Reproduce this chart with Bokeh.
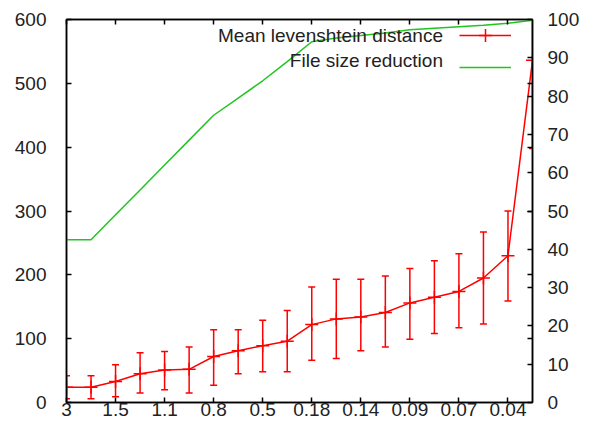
from bokeh.plotting import figure
from bokeh.models import (Range1d, LinearAxis, FixedTicker, ColumnDataSource,
                          Legend, LegendItem, Label)
from bokeh.embed import file_html
from bokeh.resources import INLINE

# ---------------- data ----------------
x_index = list(range(20))
tick_values = [0, 2, 4, 6, 8, 10, 12, 14, 16, 18]
tick_labels = ["3", "1.5", "1.1", "0.8", "0.5", "0.18", "0.14", "0.09", "0.07", "0.04"]

lev_mean = [24, 24, 33, 45, 51, 52, 72, 81, 89, 96,
            122, 131, 134, 141, 156, 165, 174, 195, 230, 536]
lev_lower = [6, 6, 9, 15, 20, 15, 27, 45, 48, 48,
             66, 69, 81, 87, 99, 108, 117, 123, 159, 398]
lev_upper = [42, 42, 59, 78, 80, 87, 114, 114, 129, 144,
             181, 193, 193, 198, 210, 222, 233, 267, 300, 674]

size_reduction = [42.5, 42.5, 49, 55.5, 62, 68.5, 75, 79.5, 84, 89,
                  94.2, 95.2, 95.8, 96.5, 97.3, 97.7, 98.1, 98.5, 99.0, 99.8]

left_ticks = [0, 100, 200, 300, 400, 500, 600]
right_ticks = [0, 10, 20, 30, 40, 50, 60, 70, 80, 90, 100]

series_names = ["Mean levenshtein distance", "File size reduction"]

# ---------------- style ----------------
FONT = "Liberation Sans"
FS = "19px"
TXT = "#222222"
RED = "#ff0000"
GREEN = "#22c422"

p = figure(width=582, height=418,
           x_range=Range1d(0, 19), y_range=Range1d(0, 600),
           output_backend="svg", toolbar_location=None,
           min_border_left=66, min_border_right=47,
           min_border_top=19, min_border_bottom=0)
p.extra_y_ranges = {"y2": Range1d(0, 100)}
p.grid.visible = False
p.outline_line_color = "black"
p.outline_line_width = 1.5
p.background_fill_color = "white"
p.border_fill_color = "white"


def style_axis(ax, standoff):
    ax.axis_line_color = "black"
    ax.axis_line_width = 1.5
    ax.major_tick_line_color = "black"
    ax.major_tick_line_width = 1.5
    ax.major_tick_in = 5
    ax.major_tick_out = 0
    ax.minor_tick_line_color = None
    ax.major_label_text_font = FONT
    ax.major_label_text_font_size = FS
    ax.major_label_text_color = TXT
    ax.major_label_standoff = standoff


# bottom axis
xa = p.xaxis[0]
xa.ticker = FixedTicker(ticks=tick_values)
xa.major_label_overrides = {v: s for v, s in zip(tick_values, tick_labels)}
style_axis(xa, 0)

# left axis
ya = p.yaxis[0]
ya.ticker = FixedTicker(ticks=left_ticks)
style_axis(ya, 20)

# right axis (y2) with mirrored left ticks as minor ticks
mirror = [v * 100 / 600 for v in left_ticks[1:-1]]
y2 = LinearAxis(y_range_name="y2",
                ticker=FixedTicker(ticks=right_ticks, minor_ticks=mirror))
style_axis(y2, 15)
y2.minor_tick_line_color = "black"
y2.minor_tick_line_width = 1.5
y2.minor_tick_in = 5
y2.minor_tick_out = 0
p.add_layout(y2, "right")

# top axis (mirrored x ticks, no labels)
xt = LinearAxis(ticker=FixedTicker(ticks=tick_values))
style_axis(xt, 0)
xt.major_label_text_font_size = "0px"
xt.major_label_overrides = {v: "" for v in tick_values}
p.add_layout(xt, "above")

# ---------------- glyphs ----------------
src = ColumnDataSource(dict(x=x_index, mean=lev_mean, lower=lev_lower,
                            upper=lev_upper, red=size_reduction))

p.segment(x0="x", y0="lower", x1="x", y1="upper", source=src,
          line_color=RED, line_width=1.5)
p.scatter("x", "upper", marker="dash", size=7, line_color=RED,
          line_width=1.5, source=src)
p.scatter("x", "lower", marker="dash", size=7, line_color=RED,
          line_width=1.5, source=src)
red_line = p.line("x", "mean", source=src, line_color=RED, line_width=1.5)
red_pts = p.scatter("x", "mean", marker="cross", size=13, line_color=RED,
                    line_width=1.5, source=src)
green_line = p.line("x", "red", source=src, y_range_name="y2",
                    line_color=GREEN, line_width=1.5)

# ---------------- legend (gnuplot style: text left of sample) ----------------
legend = Legend(items=[LegendItem(label=" ", renderers=[red_line, red_pts]),
                       LegendItem(label=" ", renderers=[green_line])],
                location="top_right", margin=0, padding=0, spacing=-9,
                glyph_width=52, glyph_height=32, label_width=18,
                label_standoff=3, label_height=10,
                label_text_font_size="10px",
                background_fill_alpha=0, border_line_alpha=0)
p.add_layout(legend)

for name, yv in zip(series_names, [575, 535]):
    p.add_layout(Label(x=15.35, y=yv, text=name, text_align="right",
                       text_baseline="middle", text_font=FONT,
                       text_font_size=FS, text_color=TXT))

open("out.html", "w").write(file_html(p, INLINE))
